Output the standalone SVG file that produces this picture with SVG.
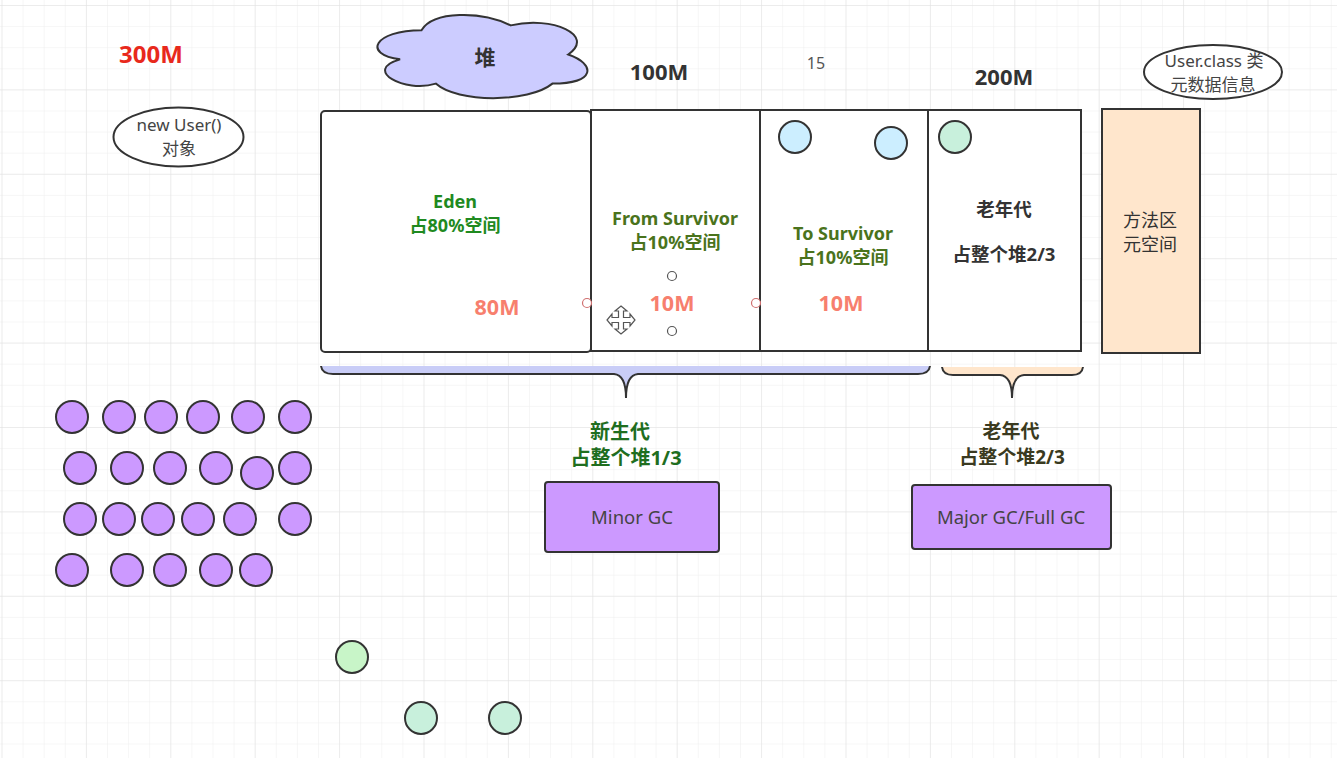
<svg xmlns="http://www.w3.org/2000/svg" width="1337" height="758" viewBox="0 0 1337 758">
<defs>
<pattern id="minor" x="1.5" y="5" width="21.1" height="21.1" patternUnits="userSpaceOnUse">
<path d="M0,0 V21.1 M0,0 H21.1" fill="none" stroke="#eeeeee" stroke-width="1"/>
</pattern>
<pattern id="major" x="1.5" y="5" width="84.4" height="84.4" patternUnits="userSpaceOnUse">
<path d="M0,0 V84.4 M0,0 H84.4" fill="none" stroke="#e2e2e2" stroke-width="1"/>
</pattern>
<style>
text{font-family:"Noto Sans","Noto Sans CJK SC",sans-serif;text-anchor:middle}
.b{font-weight:bold}
.box{fill:#ffffff;stroke:#333333;stroke-width:2}
.purple{fill:#cc99ff;stroke:#333333;stroke-width:2}
.cyan{fill:#cceeff;stroke:#333333;stroke-width:2}
.mint{fill:#c8f0dc;stroke:#333333;stroke-width:2}
.lgreen{fill:#c8f5c8;stroke:#333333;stroke-width:2}
.gray{fill:#333333}
.green{fill:#1f8a1f}
.olive{fill:#4a731c}
.salmon{fill:#f77f6e}
.handle{fill:#ffffff;stroke-width:1.2}
</style>
</defs>
<rect x="0" y="0" width="1337" height="758" fill="#ffffff"/>
<rect x="0" y="0" width="1337" height="758" fill="url(#minor)"/>
<rect x="0" y="0" width="1337" height="758" fill="url(#major)"/>

<g id="label-300m"><text x="151" y="63" class="b" font-size="24" fill="#e8291c">300M</text></g>

<g id="new-user">
<ellipse cx="178.5" cy="137" rx="65" ry="29.5" fill="#ffffff" stroke="#333333" stroke-width="2"/>
<text x="179" y="131" font-size="17" fill="#444444">new User()</text>
<text x="179" y="155" font-size="17" fill="#444444">对象</text>
</g>

<g id="heap-cloud">
<path d="M421.5,30.25 C373.9,30.25 362,54.5 400.1,59.35 C362,70 404.8,93.3 435.8,83.6 C457.2,103 528.6,103 552.4,83.6 C596,83.6 596,64.2 568.25,54.5 C596,35.1 552.4,15.7 510.75,25.4 C481,10.85 433.4,10.85 421.5,30.25 Z" fill="#ccccff" stroke="#333333" stroke-width="2"/>
<text x="485" y="65" class="b" font-size="21" fill="#333333">堆</text>
</g>

<g id="label-100m"><text x="659" y="80" class="b" font-size="22" fill="#333333">100M</text></g>
<g id="label-15"><text x="816" y="69" font-size="16" fill="#555555">15</text></g>
<g id="label-200m"><text x="1004" y="85" class="b" font-size="22" fill="#333333">200M</text></g>

<g id="user-class">
<ellipse cx="1213" cy="72" rx="69" ry="27" fill="#ffffff" stroke="#333333" stroke-width="2"/>
<text x="1214" y="67" font-size="17" fill="#444444">User.class 类</text>
<text x="1213" y="91" font-size="17" fill="#444444">元数据信息</text>
</g>

<g id="eden">
<rect x="321" y="111" width="270" height="241" rx="4" class="box"/>
<text x="455" y="208" class="b green" font-size="18">Eden</text>
<text x="455" y="232" class="b green" font-size="18">占80%空间</text>
<text x="497" y="315" class="b salmon" font-size="21.5">80M</text>
</g>

<g id="from-survivor">
<rect x="591" y="110" width="169" height="241" class="box"/>
<text x="675" y="225" class="b olive" font-size="18">From Survivor</text>
<text x="675" y="249" class="b olive" font-size="18">占10%空间</text>
<text x="672" y="311" class="b salmon" font-size="21.5">10M</text>
</g>

<g id="to-survivor">
<rect x="760" y="110" width="168" height="241" class="box"/>
<text x="843" y="240" class="b olive" font-size="18">To Survivor</text>
<text x="843" y="264" class="b olive" font-size="18">占10%空间</text>
<text x="841" y="311" class="b salmon" font-size="21.5">10M</text>
<circle cx="795" cy="137" r="16" class="cyan"/>
<circle cx="891" cy="143" r="16" class="cyan"/>
</g>

<g id="old-gen">
<rect x="928" y="110" width="153" height="241" class="box"/>
<text x="1004" y="216" class="b gray" font-size="18.5">老年代</text>
<text x="1004" y="261" class="b gray" font-size="18.5">占整个堆2/3</text>
<circle cx="955" cy="137" r="16" class="mint"/>
</g>

<g id="method-area">
<rect x="1102" y="109" width="98" height="244" fill="#ffe6cc" stroke="#333333" stroke-width="2"/>
<text x="1150" y="227" font-size="18" fill="#333333">方法区</text>
<text x="1150" y="251" font-size="18" fill="#333333">元空间</text>
</g>

<g id="selection-handles">
<circle cx="587" cy="303" r="4.5" class="handle" stroke="#d07070"/>
<circle cx="756" cy="303" r="4.5" class="handle" stroke="#d07070"/>
<circle cx="672" cy="276" r="4.5" class="handle" stroke="#555555"/>
<circle cx="672" cy="331" r="4.5" class="handle" stroke="#555555"/>
<path transform="translate(621,320)" d="M0,-14 L6,-9 L2.5,-9 L2.5,-2.5 L9,-2.5 L9,-6 L14,0 L9,6 L9,2.5 L2.5,2.5 L2.5,9 L6,9 L0,14 L-6,9 L-2.5,9 L-2.5,2.5 L-9,2.5 L-9,6 L-14,0 L-9,-6 L-9,-2.5 L-2.5,-2.5 L-2.5,-9 L-6,-9 Z" fill="#ffffff" stroke="#555555" stroke-width="1.2"/>
</g>

<g id="connectors">
<g id="young-brace">
<path d="M321,366 Q322,374 333,374 L614,374 Q626,375 626,398 Q626,375 638,374 L918,374 Q929,374 930,366 Z" fill="#c9cdf7" stroke="none"/>
<path d="M321,366 Q322,374 333,374 L614,374 Q626,375 626,398 Q626,375 638,374 L918,374 Q929,374 930,366" fill="none" stroke="#333333" stroke-width="2"/>
</g>
<g id="old-brace">
<path d="M942,367 Q943,375 953,375 L1000,375 Q1012,376 1012,398 Q1012,376 1024,375 L1072,375 Q1082,375 1083,367 Z" fill="#ffe6cc" stroke="none"/>
<path d="M942,367 Q943,375 953,375 L1000,375 Q1012,376 1012,398 Q1012,376 1024,375 L1072,375 Q1082,375 1083,367" fill="none" stroke="#333333" stroke-width="2"/>
</g>
</g>

<g id="young-label">
<text x="620" y="439" class="b" font-size="20" fill="#1f6e1f">新生代</text>
<text x="626" y="465" class="b" font-size="20" fill="#1f6e1f">占整个堆1/3</text>
</g>

<g id="old-label">
<text x="1011" y="438" class="b" font-size="19" fill="#3a3a20">老年代</text>
<text x="1012" y="464" class="b" font-size="19" fill="#3a3a20">占整个堆2/3</text>
</g>

<g id="minor-gc">
<rect x="545" y="482" width="174" height="70" rx="3" class="purple"/>
<text x="632" y="524" font-size="18.5" fill="#444444">Minor GC</text>
</g>

<g id="major-gc">
<rect x="912" y="485" width="199" height="64" rx="3" class="purple"/>
<text x="1011" y="524" font-size="18.5" fill="#444444">Major GC/Full GC</text>
</g>

<g id="objects">
<circle cx="72" cy="417" r="16" class="purple"/>
<circle cx="119" cy="417" r="16" class="purple"/>
<circle cx="161" cy="417" r="16" class="purple"/>
<circle cx="203" cy="417" r="16" class="purple"/>
<circle cx="248" cy="417" r="16" class="purple"/>
<circle cx="295" cy="417" r="16" class="purple"/>
<circle cx="80" cy="468" r="16" class="purple"/>
<circle cx="127" cy="468" r="16" class="purple"/>
<circle cx="170" cy="468" r="16" class="purple"/>
<circle cx="216" cy="468" r="16" class="purple"/>
<circle cx="257" cy="473" r="16" class="purple"/>
<circle cx="295" cy="468" r="16" class="purple"/>
<circle cx="80" cy="519" r="16" class="purple"/>
<circle cx="119" cy="519" r="16" class="purple"/>
<circle cx="158" cy="519" r="16" class="purple"/>
<circle cx="198" cy="519" r="16" class="purple"/>
<circle cx="240" cy="519" r="16" class="purple"/>
<circle cx="295" cy="519" r="16" class="purple"/>
<circle cx="72" cy="570" r="16" class="purple"/>
<circle cx="127" cy="570" r="16" class="purple"/>
<circle cx="170" cy="570" r="16" class="purple"/>
<circle cx="216" cy="570" r="16" class="purple"/>
<circle cx="256" cy="570" r="16" class="purple"/>
</g>

<g id="survivors-bottom">
<circle cx="352" cy="657" r="16" class="lgreen"/>
<circle cx="421" cy="718" r="16" class="mint"/>
<circle cx="505" cy="718" r="16" class="mint"/>
</g>
</svg>
